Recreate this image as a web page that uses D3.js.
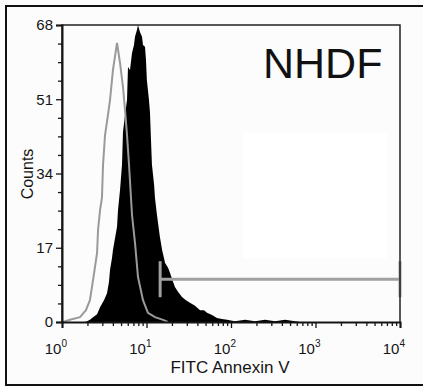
<!DOCTYPE html>
<html>
<head>
<meta charset="utf-8">
<script src="https://d3js.org/d3.v7.min.js"></script>
<style>
  body { margin: 0; background: #fcfcfc; }
  svg { display: block; font-family: "Liberation Sans", Arial, sans-serif; }
</style>
</head>
<body>
<div id="container"></div>
<script>
// FITC Annexin V (log scale) vs counts
var controlX = [1.03, 1.24, 1.63, 1.92, 2.14, 2.33, 2.6, 2.67, 2.82, 2.97, 3.06, 3.23, 3.5, 3.7, 4.01, 4.48,
  4.86, 5.27, 5.57, 5.88, 6.21, 6.74, 7.31, 7.93, 9.09, 10.4, 12.6, 15.7, 17.9];
var controlCounts = [0, 0.5, 1.1, 2.7, 5.0, 9.6, 15.8, 21.1, 25.6, 28.4, 36.0, 42.8, 47.4, 50.8, 57.7, 63.9,
  59.3, 53.8, 48.5, 42.8, 36.0, 24.5, 18.1, 10.3, 5.0, 2.1, 1.1, 0.5, 0];

var nhdfX = [1.87, 1.98, 2.14, 2.33, 2.6, 2.82, 3.14, 3.41, 3.6, 3.7, 3.91, 4.01, 4.24, 4.48, 4.6, 4.86, 4.99,
  5.13, 5.27, 5.57, 5.88, 6.04, 6.38, 6.74, 7.11, 7.31, 7.72, 7.93, 8.37, 8.85, 9.09, 9.6, 9.86, 10.1, 10.7,
  11.0, 11.3, 11.6, 12.3, 12.6, 13.3, 14.4, 15.3, 16.6, 18.0, 19.0, 20.6, 21.7, 23.6, 26.3, 29.3, 32.7, 37.5,
  43.0, 47.9, 52.0, 59.6, 68.2, 78.2, 89.7, 111, 147, 192, 253, 332, 436, 572, 656];
var nhdfCounts = [0, 0.2, 0.5, 1.1, 1.8, 3.4, 5.0, 6.6, 9.2, 11.9, 14.7, 16.5, 19.2, 21.8, 25.6, 30.2, 33.0,
  36.0, 43.5, 47.4, 50.8, 58.4, 57.7, 61.6, 63.4, 65.3, 66.9, 68, 66.4, 65.3, 63.4, 63.0, 60.0, 55.4, 50.8,
  47.9, 41.7, 36.0, 31.4, 28.4, 24.5, 19.5, 16.5, 13.5, 12.4, 11.2, 9.2, 8.0, 6.9, 5.7, 5.0, 4.4, 3.7,
  2.7, 2.7, 2.1, 1.6, 0.9, 0.7, 0.5, 0.2, 0.5, 0.2, 0.5, 0.2, 0.5, 0.2, 0];

var yTicks = [0, 17, 34, 51, 68];
var yMinor = [4.25, 8.5, 12.75, 21.25, 25.5, 29.75, 38.25, 42.5, 46.75, 55.25, 59.5, 63.75];
var xTicks = [1, 10, 100, 1000, 10000];
var xExp = ["0", "1", "2", "3", "4"];
var gate = [14.5, 10000];
var gateLevel = 9.8;

var width = 423, height = 387;
var margin = {left: 62, right: 23, top: 25, bottom: 65};
var ink = "#151515";

var svg = d3.select("#container").append("svg")
  .attr("width", width)
  .attr("height", height);

svg.append("rect").attr("width", width).attr("height", height).attr("fill", "#fcfcfc");
// outer frame (cut off on the right)
svg.append("rect")
  .attr("x", 6).attr("y", 6).attr("width", 440).attr("height", 379)
  .attr("fill", "none").attr("stroke", "#111").attr("stroke-width", 2);

var x = d3.scaleLog().domain([1, 10000]).range([margin.left, width - margin.right]);
var y = d3.scaleLinear().domain([0, 68]).range([height - margin.bottom, margin.top]);

// faint white patch behind the empty area
svg.append("rect")
  .attr("x", 243).attr("y", 133).attr("width", 144).attr("height", 125)
  .attr("fill", "#ffffff");

var nhdf = nhdfX.map((d, i) => [d, nhdfCounts[i]]);
var control = controlX.map((d, i) => [d, controlCounts[i]]);

svg.append("path")
  .datum(nhdf)
  .attr("fill", "#000")
  .attr("d", d3.area().x(d => x(d[0])).y0(y(0)).y1(d => y(d[1])));

svg.append("path")
  .datum(control)
  .attr("fill", "none")
  .attr("stroke", "#9a9a9a")
  .attr("stroke-width", 2)
  .attr("d", d3.line().x(d => x(d[0])).y(d => y(d[1])));

// gate marker
var gy = y(gateLevel);
var g = svg.append("g").attr("stroke", "#a0a0a0").attr("stroke-width", 3);
g.append("line").attr("x1", x(gate[0])).attr("x2", x(gate[1])).attr("y1", gy).attr("y2", gy);
g.selectAll("line.end").data(gate).join("line").attr("class", "end")
  .attr("x1", d => x(d)).attr("x2", d => x(d))
  .attr("y1", gy - 18).attr("y2", gy + 18);

// box
svg.append("path")
  .attr("fill", "none").attr("stroke", "#222").attr("stroke-width", 1.5)
  .attr("d", `M${x(1)},${y(0)}V${y(68)}H${x(10000)}V${y(0)}`);

// y axis
var yAxis = svg.append("g")
  .attr("transform", `translate(${x(1)},0)`)
  .call(d3.axisLeft(y).tickValues(yTicks).tickSize(6).tickPadding(3));
svg.append("g")
  .attr("transform", `translate(${x(1)},0)`)
  .call(d3.axisLeft(y).tickValues(yMinor).tickSize(4).tickFormat(""))
  .select(".domain").remove();

// x axis
var minor = [];
xTicks.slice(0, 4).forEach(t => { for (var k = 2; k < 10; k++) minor.push(t * k); });
svg.append("g")
  .attr("transform", `translate(0,${y(0)})`)
  .call(d3.axisBottom(x).tickValues(xTicks).tickSize(6).tickFormat(""));
svg.append("g")
  .attr("transform", `translate(0,${y(0)})`)
  .call(d3.axisBottom(x).tickValues(minor).tickSize(4).tickFormat(""))
  .select(".domain").remove();

svg.selectAll(".domain").attr("stroke", ink).attr("stroke-width", 2);
svg.selectAll(".tick line").attr("stroke", ink).attr("stroke-width", 1.3);
yAxis.attr("font-size", 15).attr("font-family", null);
yAxis.selectAll("text").attr("fill", ink);

var lab = svg.append("g").attr("font-size", 15).attr("fill", ink);
var xt = lab.selectAll("text").data(xTicks).join("text")
  .attr("x", d => x(d) + 5)
  .attr("y", 354)
  .attr("text-anchor", "end");
xt.append("tspan").text("10");
xt.append("tspan").attr("dy", -7).attr("font-size", 10).text((d, i) => xExp[i]);

svg.append("text")
  .attr("x", 230).attr("y", 373)
  .attr("text-anchor", "middle")
  .attr("font-size", 17).attr("fill", ink)
  .text("FITC Annexin V");

svg.append("text")
  .attr("transform", "translate(33,174) rotate(-90)")
  .attr("text-anchor", "middle")
  .attr("font-size", 16).attr("fill", ink)
  .text("Counts");

svg.append("text")
  .attr("x", 263).attr("y", 78)
  .attr("font-size", 43).attr("fill", "#111")
  .text("NHDF");
</script>
</body>
</html>
